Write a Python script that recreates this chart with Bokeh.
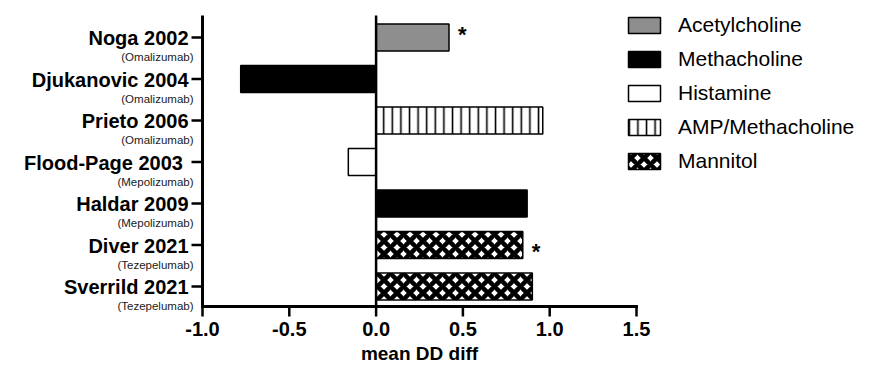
import math
from bokeh.plotting import figure
from bokeh.models import ColumnDataSource, Legend, LegendItem, Range1d
from bokeh.core.properties import value
from bokeh.embed import file_html
from bokeh.resources import INLINE

# ---- data ----
studies = ["Noga 2002", "Djukanovic 2004", "Prieto 2006", "Flood-Page 2003 ",
           "Haldar 2009", "Diver 2021", "Sverrild 2021"]
drugs = ["(Omalizumab)", "(Omalizumab)", "(Omalizumab)", "(Mepolizumab)",
         "(Mepolizumab)", "(Tezepelumab)", "(Tezepelumab)"]
mean_dd_diff = [0.42, -0.78, 0.96, -0.16, 0.87, 0.845, 0.90]
challenge = ["Acetylcholine", "Methacholine", "AMP/Methacholine", "Histamine",
             "Methacholine", "Mannitol", "Mannitol"]
significant = [True, False, False, False, False, True, False]
legend_order = ["Acetylcholine", "Methacholine", "Histamine", "AMP/Methacholine", "Mannitol"]
x_ticks = [-1.0, -0.5, 0.0, 0.5, 1.0, 1.5]
x_tick_labels = ["-1.0", "-0.5", "0.0", "0.5", "1.0", "1.5"]
x_title = "mean DD diff"

n = len(studies)
ypos = [n - i for i in range(n)]
x_min, x_max = x_ticks[0], x_ticks[-1]

styles = {
    "Acetylcholine": dict(fill_color="#8e8e8e"),
    "Methacholine": dict(fill_color="black"),
    "Histamine": dict(fill_color="white"),
    "AMP/Methacholine": dict(fill_color="white", hatch_pattern="vertical_line",
                             hatch_scale=8.6, hatch_weight=1.6, hatch_color="black"),
    "Mannitol": dict(fill_color="white", hatch_pattern="diagonal_cross",
                     hatch_scale=13, hatch_weight=4.5, hatch_color="black"),
}
# vertical nudges (screen px) of the significance stars, in order of appearance
star_nudge = [-3, 7]

FONT = "Liberation Sans"
W, H = 859, 363
px_per_x = 173.6              # screen px per data unit on x
axis_px = 202                 # screen x of the y axis
y_lo, y_hi = 0.518, 7.53      # data extent of the axes box
top_px, bottom_px = 15, 306   # screen y of that extent
px_per_y = (bottom_px - top_px) / (y_hi - y_lo)

p = figure(width=W, height=H, output_backend="svg", toolbar_location=None,
           x_range=Range1d(x_min - axis_px / px_per_x, x_min + (W - axis_px) / px_per_x),
           y_range=Range1d(y_lo - (H - bottom_px) / px_per_y, y_hi + top_px / px_per_y),
           min_border=0)
p.outline_line_color = None
p.grid.visible = False
p.axis.visible = False
p.background_fill_color = "white"

items = []
for ch in legend_order:
    idx = [i for i in range(n) if challenge[i] == ch]
    src = ColumnDataSource(dict(y=[ypos[i] for i in idx],
                                right=[mean_dd_diff[i] for i in idx]))
    r = p.hbar(y="y", left=0, right="right", height=0.65, source=src,
               line_color="black", line_width=1.5, **styles[ch])
    items.append(LegendItem(label=ch, renderers=[r]))

# axis lines and zero line
p.segment(x0=[x_min, 0.0], y0=[y_lo, y_lo], x1=[x_min, 0.0], y1=[y_hi, y_hi],
          line_color="black", line_width=[3, 2.5])
p.segment(x0=[x_min], y0=[y_lo], x1=[x_max], y1=[y_lo],
          line_color="black", line_width=3, line_cap="square")

# y ticks and labels
p.ray(x=[x_min] * n, y=ypos, length=11, length_units="screen",
      angle=math.pi, line_color="black", line_width=2.5)
p.text(x=[x_min] * n, y=ypos, text=studies, x_offset=-14, y_offset=1,
       text_align="right", text_baseline="middle", text_font=value(FONT),
       text_font_style="bold", text_font_size="20px", text_color="black")
p.text(x=[x_min] * n, y=ypos, text=drugs, x_offset=-9, y_offset=20,
       text_align="right", text_baseline="middle", text_font=value(FONT),
       text_font_size="11.5px", text_color="#1a1a1a")

# x ticks and labels
p.ray(x=x_ticks, y=[y_lo] * len(x_ticks), length=10, length_units="screen",
      angle=-math.pi / 2, line_color="black", line_width=2.5)
p.text(x=x_ticks, y=[y_lo] * len(x_ticks), text=x_tick_labels, y_offset=22,
       text_align="center", text_baseline="middle", text_font=value(FONT),
       text_font_style="bold", text_font_size="20px", text_color="black")
p.text(x=[(x_min + x_max) / 2], y=[y_lo], text=[x_title], y_offset=47,
       text_align="center", text_baseline="middle", text_font=value(FONT),
       text_font_style="bold", text_font_size="19px", text_color="black")

# significance markers
sig_idx = [i for i in range(n) if significant[i]]
p.text(x=[mean_dd_diff[i] for i in sig_idx], y=[ypos[i] for i in sig_idx],
       text=["*"] * len(sig_idx), x_offset=9, y_offset=star_nudge,
       text_font=value(FONT), text_font_style="bold", text_font_size="22px",
       text_baseline="middle", text_align="left", text_color="black")

legend = Legend(items=items, location=(624, 190), border_line_color=None,
                background_fill_alpha=0, padding=0, margin=0, spacing=10,
                glyph_width=40, glyph_height=20, label_standoff=14,
                label_text_font=FONT, label_text_font_size="21px",
                label_text_color="black", label_height=20)
p.add_layout(legend)

open("out.html", "w").write(file_html(p, INLINE))
